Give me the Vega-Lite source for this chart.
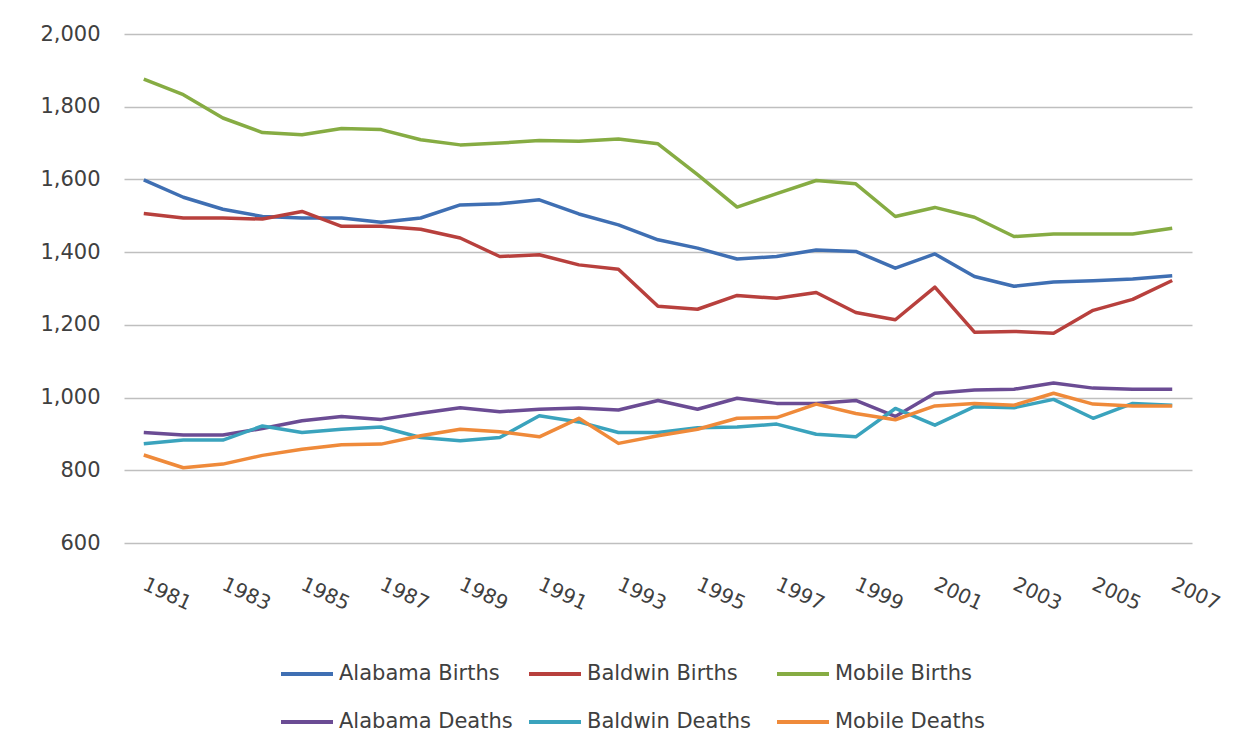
{
  "$schema": "https://vega.github.io/schema/vega-lite/v6.json",
  "width": 1068,
  "height": 509,
  "autosize": {"type": "none"},
  "padding": {"left": 124, "top": 34, "right": 57, "bottom": 212},
  "background": "white",
  "config": {"view": {"stroke": null}, "font": "DejaVu Sans"},
  "data": {"values": [
    {"year": 1981, "series": "Alabama Births", "value": 1599},
    {"year": 1982, "series": "Alabama Births", "value": 1551},
    {"year": 1983, "series": "Alabama Births", "value": 1518},
    {"year": 1984, "series": "Alabama Births", "value": 1498},
    {"year": 1985, "series": "Alabama Births", "value": 1494},
    {"year": 1986, "series": "Alabama Births", "value": 1494},
    {"year": 1987, "series": "Alabama Births", "value": 1482},
    {"year": 1988, "series": "Alabama Births", "value": 1494},
    {"year": 1989, "series": "Alabama Births", "value": 1530},
    {"year": 1990, "series": "Alabama Births", "value": 1533},
    {"year": 1991, "series": "Alabama Births", "value": 1544},
    {"year": 1992, "series": "Alabama Births", "value": 1505},
    {"year": 1993, "series": "Alabama Births", "value": 1475},
    {"year": 1994, "series": "Alabama Births", "value": 1434},
    {"year": 1995, "series": "Alabama Births", "value": 1411},
    {"year": 1996, "series": "Alabama Births", "value": 1381},
    {"year": 1997, "series": "Alabama Births", "value": 1388},
    {"year": 1998, "series": "Alabama Births", "value": 1406},
    {"year": 1999, "series": "Alabama Births", "value": 1402},
    {"year": 2000, "series": "Alabama Births", "value": 1356},
    {"year": 2001, "series": "Alabama Births", "value": 1395},
    {"year": 2002, "series": "Alabama Births", "value": 1333},
    {"year": 2003, "series": "Alabama Births", "value": 1306},
    {"year": 2004, "series": "Alabama Births", "value": 1318},
    {"year": 2005, "series": "Alabama Births", "value": 1321},
    {"year": 2006, "series": "Alabama Births", "value": 1326},
    {"year": 2007, "series": "Alabama Births", "value": 1335},

    {"year": 1981, "series": "Baldwin Births", "value": 1506},
    {"year": 1982, "series": "Baldwin Births", "value": 1494},
    {"year": 1983, "series": "Baldwin Births", "value": 1494},
    {"year": 1984, "series": "Baldwin Births", "value": 1491},
    {"year": 1985, "series": "Baldwin Births", "value": 1512},
    {"year": 1986, "series": "Baldwin Births", "value": 1471},
    {"year": 1987, "series": "Baldwin Births", "value": 1471},
    {"year": 1988, "series": "Baldwin Births", "value": 1463},
    {"year": 1989, "series": "Baldwin Births", "value": 1439},
    {"year": 1990, "series": "Baldwin Births", "value": 1388},
    {"year": 1991, "series": "Baldwin Births", "value": 1393},
    {"year": 1992, "series": "Baldwin Births", "value": 1365},
    {"year": 1993, "series": "Baldwin Births", "value": 1353},
    {"year": 1994, "series": "Baldwin Births", "value": 1251},
    {"year": 1995, "series": "Baldwin Births", "value": 1243},
    {"year": 1996, "series": "Baldwin Births", "value": 1281},
    {"year": 1997, "series": "Baldwin Births", "value": 1273},
    {"year": 1998, "series": "Baldwin Births", "value": 1289},
    {"year": 1999, "series": "Baldwin Births", "value": 1234},
    {"year": 2000, "series": "Baldwin Births", "value": 1214},
    {"year": 2001, "series": "Baldwin Births", "value": 1304},
    {"year": 2002, "series": "Baldwin Births", "value": 1180},
    {"year": 2003, "series": "Baldwin Births", "value": 1182},
    {"year": 2004, "series": "Baldwin Births", "value": 1177},
    {"year": 2005, "series": "Baldwin Births", "value": 1240},
    {"year": 2006, "series": "Baldwin Births", "value": 1270},
    {"year": 2007, "series": "Baldwin Births", "value": 1322},

    {"year": 1981, "series": "Mobile Births", "value": 1876},
    {"year": 1982, "series": "Mobile Births", "value": 1833},
    {"year": 1983, "series": "Mobile Births", "value": 1769},
    {"year": 1984, "series": "Mobile Births", "value": 1729},
    {"year": 1985, "series": "Mobile Births", "value": 1723},
    {"year": 1986, "series": "Mobile Births", "value": 1740},
    {"year": 1987, "series": "Mobile Births", "value": 1737},
    {"year": 1988, "series": "Mobile Births", "value": 1709},
    {"year": 1989, "series": "Mobile Births", "value": 1695},
    {"year": 1990, "series": "Mobile Births", "value": 1700},
    {"year": 1991, "series": "Mobile Births", "value": 1707},
    {"year": 1992, "series": "Mobile Births", "value": 1705},
    {"year": 1993, "series": "Mobile Births", "value": 1711},
    {"year": 1994, "series": "Mobile Births", "value": 1698},
    {"year": 1995, "series": "Mobile Births", "value": 1613},
    {"year": 1996, "series": "Mobile Births", "value": 1524},
    {"year": 1997, "series": "Mobile Births", "value": 1561},
    {"year": 1998, "series": "Mobile Births", "value": 1597},
    {"year": 1999, "series": "Mobile Births", "value": 1588},
    {"year": 2000, "series": "Mobile Births", "value": 1498},
    {"year": 2001, "series": "Mobile Births", "value": 1523},
    {"year": 2002, "series": "Mobile Births", "value": 1496},
    {"year": 2003, "series": "Mobile Births", "value": 1443},
    {"year": 2004, "series": "Mobile Births", "value": 1450},
    {"year": 2005, "series": "Mobile Births", "value": 1450},
    {"year": 2006, "series": "Mobile Births", "value": 1450},
    {"year": 2007, "series": "Mobile Births", "value": 1466},

    {"year": 1981, "series": "Alabama Deaths", "value": 904},
    {"year": 1982, "series": "Alabama Deaths", "value": 897},
    {"year": 1983, "series": "Alabama Deaths", "value": 897},
    {"year": 1984, "series": "Alabama Deaths", "value": 915},
    {"year": 1985, "series": "Alabama Deaths", "value": 936},
    {"year": 1986, "series": "Alabama Deaths", "value": 948},
    {"year": 1987, "series": "Alabama Deaths", "value": 940},
    {"year": 1988, "series": "Alabama Deaths", "value": 957},
    {"year": 1989, "series": "Alabama Deaths", "value": 972},
    {"year": 1990, "series": "Alabama Deaths", "value": 961},
    {"year": 1991, "series": "Alabama Deaths", "value": 968},
    {"year": 1992, "series": "Alabama Deaths", "value": 971},
    {"year": 1993, "series": "Alabama Deaths", "value": 966},
    {"year": 1994, "series": "Alabama Deaths", "value": 992},
    {"year": 1995, "series": "Alabama Deaths", "value": 968},
    {"year": 1996, "series": "Alabama Deaths", "value": 998},
    {"year": 1997, "series": "Alabama Deaths", "value": 984},
    {"year": 1998, "series": "Alabama Deaths", "value": 984},
    {"year": 1999, "series": "Alabama Deaths", "value": 992},
    {"year": 2000, "series": "Alabama Deaths", "value": 948},
    {"year": 2001, "series": "Alabama Deaths", "value": 1012},
    {"year": 2002, "series": "Alabama Deaths", "value": 1021},
    {"year": 2003, "series": "Alabama Deaths", "value": 1023},
    {"year": 2004, "series": "Alabama Deaths", "value": 1040},
    {"year": 2005, "series": "Alabama Deaths", "value": 1026},
    {"year": 2006, "series": "Alabama Deaths", "value": 1023},
    {"year": 2007, "series": "Alabama Deaths", "value": 1023},

    {"year": 1981, "series": "Baldwin Deaths", "value": 873},
    {"year": 1982, "series": "Baldwin Deaths", "value": 883},
    {"year": 1983, "series": "Baldwin Deaths", "value": 883},
    {"year": 1984, "series": "Baldwin Deaths", "value": 922},
    {"year": 1985, "series": "Baldwin Deaths", "value": 904},
    {"year": 1986, "series": "Baldwin Deaths", "value": 913},
    {"year": 1987, "series": "Baldwin Deaths", "value": 919},
    {"year": 1988, "series": "Baldwin Deaths", "value": 890},
    {"year": 1989, "series": "Baldwin Deaths", "value": 881},
    {"year": 1990, "series": "Baldwin Deaths", "value": 890},
    {"year": 1991, "series": "Baldwin Deaths", "value": 950},
    {"year": 1992, "series": "Baldwin Deaths", "value": 933},
    {"year": 1993, "series": "Baldwin Deaths", "value": 904},
    {"year": 1994, "series": "Baldwin Deaths", "value": 904},
    {"year": 1995, "series": "Baldwin Deaths", "value": 917},
    {"year": 1996, "series": "Baldwin Deaths", "value": 919},
    {"year": 1997, "series": "Baldwin Deaths", "value": 927},
    {"year": 1998, "series": "Baldwin Deaths", "value": 899},
    {"year": 1999, "series": "Baldwin Deaths", "value": 892},
    {"year": 2000, "series": "Baldwin Deaths", "value": 970},
    {"year": 2001, "series": "Baldwin Deaths", "value": 924},
    {"year": 2002, "series": "Baldwin Deaths", "value": 975},
    {"year": 2003, "series": "Baldwin Deaths", "value": 972},
    {"year": 2004, "series": "Baldwin Deaths", "value": 995},
    {"year": 2005, "series": "Baldwin Deaths", "value": 943},
    {"year": 2006, "series": "Baldwin Deaths", "value": 984},
    {"year": 2007, "series": "Baldwin Deaths", "value": 979},

    {"year": 1981, "series": "Mobile Deaths", "value": 842},
    {"year": 1982, "series": "Mobile Deaths", "value": 807},
    {"year": 1983, "series": "Mobile Deaths", "value": 817},
    {"year": 1984, "series": "Mobile Deaths", "value": 841},
    {"year": 1985, "series": "Mobile Deaths", "value": 858},
    {"year": 1986, "series": "Mobile Deaths", "value": 870},
    {"year": 1987, "series": "Mobile Deaths", "value": 872},
    {"year": 1988, "series": "Mobile Deaths", "value": 895},
    {"year": 1989, "series": "Mobile Deaths", "value": 913},
    {"year": 1990, "series": "Mobile Deaths", "value": 906},
    {"year": 1991, "series": "Mobile Deaths", "value": 892},
    {"year": 1992, "series": "Mobile Deaths", "value": 943},
    {"year": 1993, "series": "Mobile Deaths", "value": 874},
    {"year": 1994, "series": "Mobile Deaths", "value": 895},
    {"year": 1995, "series": "Mobile Deaths", "value": 913},
    {"year": 1996, "series": "Mobile Deaths", "value": 943},
    {"year": 1997, "series": "Mobile Deaths", "value": 945},
    {"year": 1998, "series": "Mobile Deaths", "value": 982},
    {"year": 1999, "series": "Mobile Deaths", "value": 956},
    {"year": 2000, "series": "Mobile Deaths", "value": 939},
    {"year": 2001, "series": "Mobile Deaths", "value": 977},
    {"year": 2002, "series": "Mobile Deaths", "value": 984},
    {"year": 2003, "series": "Mobile Deaths", "value": 979},
    {"year": 2004, "series": "Mobile Deaths", "value": 1012},
    {"year": 2005, "series": "Mobile Deaths", "value": 982},
    {"year": 2006, "series": "Mobile Deaths", "value": 977},
    {"year": 2007, "series": "Mobile Deaths", "value": 977}
  ]},
  "mark": {"type": "line", "strokeWidth": 3.5, "strokeJoin": "round"},
  "encoding": {
    "x": {
      "field": "year",
      "type": "ordinal",
      "scale": {"type": "point", "padding": 0.5},
      "axis": {
        "title": null,
        "values": [1981, 1983, 1985, 1987, 1989, 1991, 1993, 1995, 1997, 1999, 2001, 2003, 2005, 2007],
        "labelAngle": 25,
        "labelAlign": "left",
        "labelBaseline": "top",
        "labelPadding": 31,
        "labelOffset": 4,
        "labelOverlap": false,
        "ticks": false,
        "tickSize": 0,
        "domain": false,
        "grid": false,
        "labelFontSize": 20,
        "labelColor": "#404040"
      }
    },
    "y": {
      "field": "value",
      "type": "quantitative",
      "scale": {"domain": [600, 2000], "nice": false, "zero": false},
      "axis": {
        "title": null,
        "values": [600, 800, 1000, 1200, 1400, 1600, 1800, 2000],
        "format": ",.0f",
        "labelFontSize": 21,
        "labelPadding": 24,
        "labelColor": "#404040",
        "ticks": false,
        "tickSize": 0,
        "domain": false,
        "grid": true,
        "gridColor": "#bfbfbf",
        "gridWidth": 1.5
      }
    },
    "color": {
      "field": "series",
      "type": "nominal",
      "scale": {
        "domain": ["Alabama Births", "Baldwin Births", "Mobile Births", "Alabama Deaths", "Baldwin Deaths", "Mobile Deaths"],
        "range": ["#3f6fb3", "#b8403d", "#86ac43", "#6b4c94", "#3aa3bd", "#ef8a3a"]
      },
      "legend": {
        "title": null,
        "orient": "none",
        "legendX": 155,
        "legendY": 612,
        "direction": "horizontal",
        "columns": 3,
        "symbolType": "stroke",
        "symbolSize": 2704,
        "symbolStrokeWidth": 4,
        "labelFontSize": 21,
        "labelColor": "#404040",
        "labelOffset": 4,
        "labelLimit": 400,
        "gridAlign": "all",
        "columnPadding": 8,
        "rowPadding": 10,
        "padding": 0
      }
    }
  }
}
